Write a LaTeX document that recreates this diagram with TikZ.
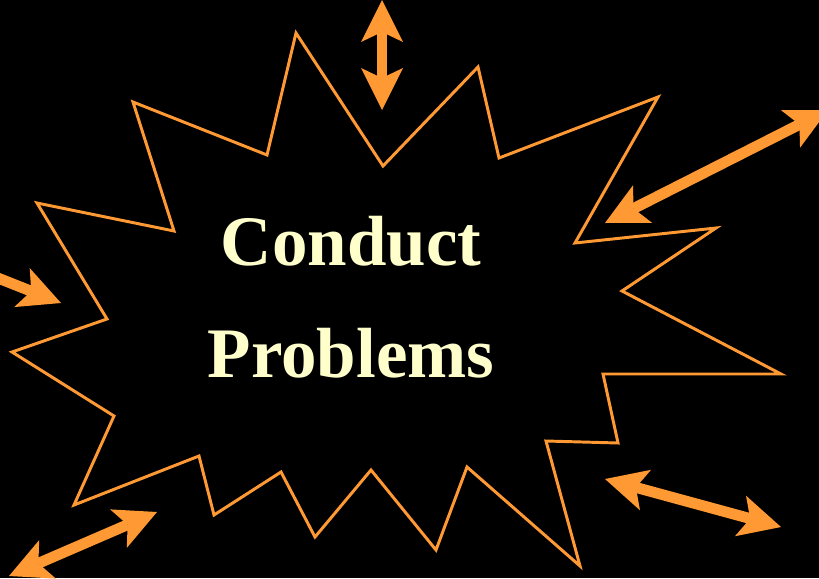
\documentclass[tikz,border=0pt]{standalone}
\usepackage{fontspec}
\setmainfont{Liberation Serif}
\usetikzlibrary{arrows.meta}
\definecolor{burst}{HTML}{FF9933}
\definecolor{cream}{HTML}{FFFFCC}

\begin{document}
\begin{tikzpicture}[
  x=0.025cm,y=-0.025cm,
  >={Stealth[length=1.05cm,width=1.05cm,inset=0.25cm,line width=0pt]},
  outline/.style={draw=burst,line width=2.1pt,line join=miter},
  arr/.style={draw=burst,line width=0.27cm},
  word/.style={text=cream,font=\bfseries\fontsize{50.5}{60}\selectfont,anchor=base,inner sep=0pt}
]
  \useasboundingbox (0,0) rectangle (819,578);
  \fill[black] (0,0) rectangle (819,578);

  \draw[outline] (296,33)--(383,166)--(478,67)--(499,158)--(658,97)--(575,243)
    --(716,228)--(622,291)--(781,374)--(603,374)--(618,443)--(546,441)
    --(580,566)--(467,467)--(436,550)--(371,470)--(315,537)--(281,472)
    --(214,515)--(199,456)--(74,505)--(114,416)--(12,352)--(107,319)
    --(37,203)--(174,231)--(133,102)--(267,155)--cycle;

  \node[word] (conduct) at (351,265) {Conduct};
  \node[word] (problems) at (351,377) {Problems};

  \coordinate (topA) at (382,0);
  \coordinate (topB) at (382,110);
  \coordinate (urA) at (605,223);
  \coordinate (urB) at (828,110);
  \coordinate (lfA) at (-40,263);
  \coordinate (lfB) at (61,303);
  \coordinate (blA) at (9,576);
  \coordinate (blB) at (157,512);
  \coordinate (brA) at (605,479);
  \coordinate (brB) at (781,527);

  \draw[arr,<->] (topA)--(topB);
  \draw[arr,<->] (urA)--(urB);
  \draw[arr,->] (lfA)--(lfB);
  \draw[arr,<->] (blA)--(blB);
  \draw[arr,<->] (brA)--(brB);
\end{tikzpicture}
\end{document}
